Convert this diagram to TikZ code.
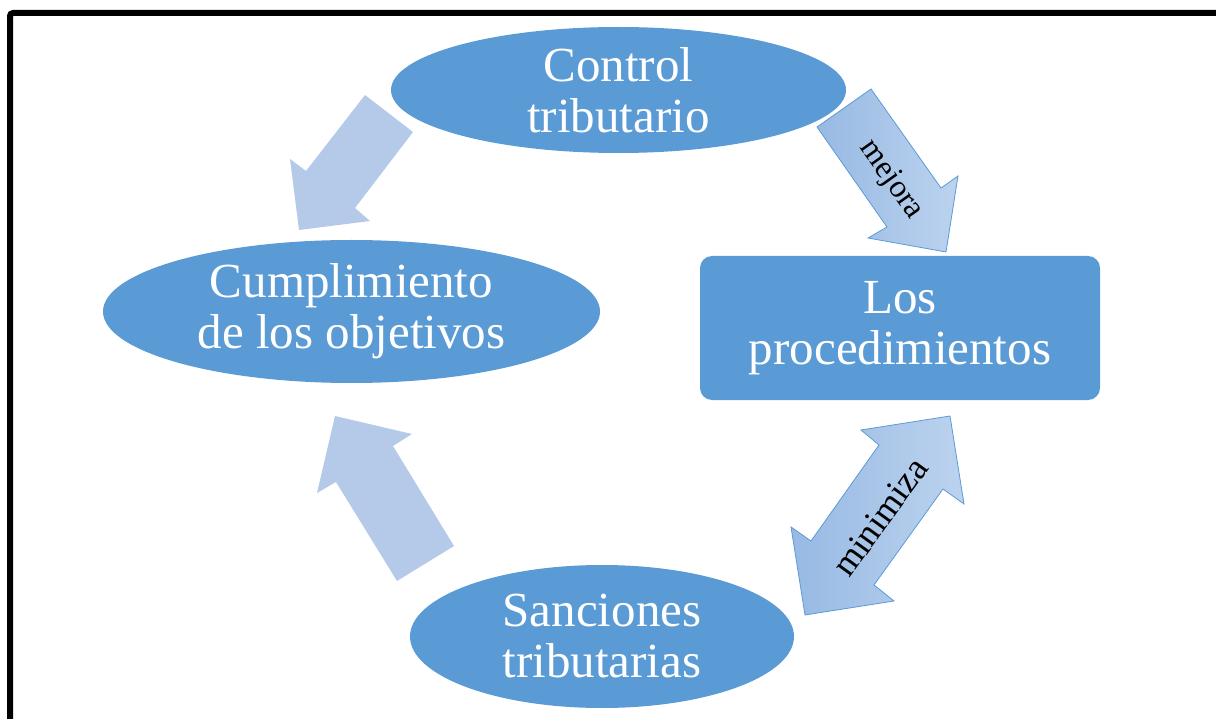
\documentclass[tikz,border=0pt]{standalone}
\usepackage{fontspec}
\setmainfont{Liberation Serif}
\usetikzlibrary{shapes.geometric}
\definecolor{nodeblue}{HTML}{5B9BD5}
\definecolor{lightarrow}{HTML}{B5CAE8}
\definecolor{gdark}{HTML}{97B9E3}
\definecolor{glight}{HTML}{BCD3EE}
\begin{document}
\begin{tikzpicture}[x=1pt,y=-1pt,
  bigtext/.style={text=white,align=center,font=\fontsize{49}{51}\selectfont,inner sep=0pt},
  ellnode/.style={bigtext,ellipse,fill=nodeblue},
  rectnode/.style={bigtext,rectangle,rounded corners=12pt,fill=nodeblue},
  plainarrow/.style={fill=lightarrow},
  gradarrow/.style={draw=nodeblue,line width=0.8pt,left color=gdark,right color=glight},
  arrowlabel/.style={text=black,inner sep=0pt}]
\useasboundingbox (0,0) rectangle (1216,719);
\clip (0,0) rectangle (1216,719);
\draw[line width=6pt,rounded corners=3pt] (10,13) rectangle (1240,745);

% block arrows
\fill[plainarrow] (365,95) -- (413,132) -- (355,208) -- (370,221) -- (299,230) -- (290,159) -- (306,171) -- cycle;
\fill[plainarrow] (335,416) -- (412,434) -- (393,446) -- (454,546) -- (397,581) -- (336,482) -- (317,493) -- cycle;
\draw[gradarrow] (871,89) -- (817,127) -- (887,227) -- (868,238) -- (946,252) -- (958,176) -- (941,188) -- cycle;
\draw[gradarrow] (950,416) -- (964,504) -- (943,489) -- (874,585) -- (894,601) -- (805,615) -- (791,527) -- (811,541) -- (879,445) -- (861,430) -- cycle;

% nodes
\node[ellnode,minimum width=455pt,minimum height=126pt] (control) at (618.5,90) {Control\\tributario};
\node[ellnode,minimum width=497pt,minimum height=143pt] (cumpl) at (351.5,311.5) {Cumplimiento\\de los objetivos};
\node[ellnode,minimum width=384pt,minimum height=143pt] (sanc) at (602,636.5) {Sanciones\\tributarias};
\node[rectnode,minimum width=400pt,minimum height=144pt] (proc) at (900,328) {Los\\procedimientos};

% labels
\node[arrowlabel,font=\fontsize{32}{34}\selectfont,rotate=-54.7] (mejora) at (891,180) {mejora};
\node[arrowlabel,font=\fontsize{36}{38}\selectfont,rotate=54] (minimiza) at (880,517) {minimiza};
\end{tikzpicture}
\end{document}
